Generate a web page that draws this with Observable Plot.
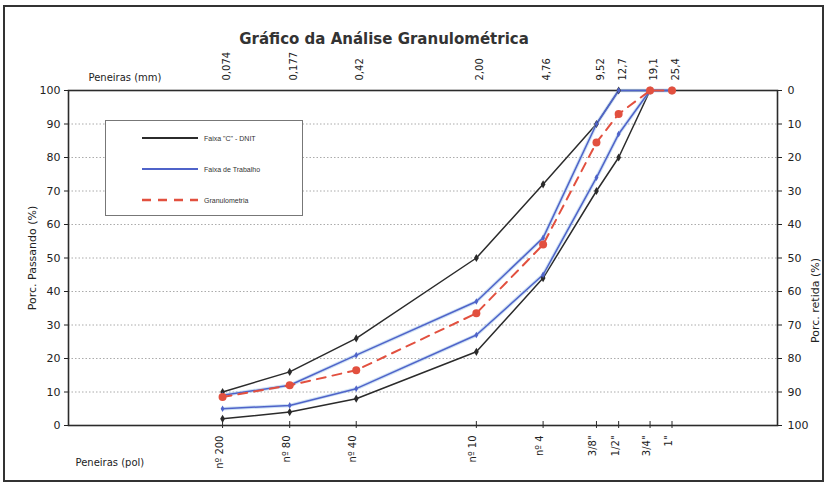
<!DOCTYPE html>
<html><head><meta charset="utf-8">
<script src="https://cdn.jsdelivr.net/npm/d3@7"></script>
<script src="https://cdn.jsdelivr.net/npm/@observablehq/plot@0.6"></script>
<style>
body{margin:0;background:#fff;font-family:"DejaVu Sans",sans-serif}
#wrap{position:relative;width:827px;height:488px;overflow:hidden}
#border{position:absolute;left:3px;top:5px;width:817px;height:473px;border:2px solid #333;pointer-events:none}
#legend{position:absolute;left:105px;top:120px;width:196px;height:94px;border:1px solid #777;background:#fff;font-family:"Liberation Sans",sans-serif;font-size:7px;color:#333}
#legend .row{position:absolute;left:36px;height:10px;display:flex;align-items:center}
#legend .row span{margin-left:6px}
</style></head><body>
<div id="wrap"><div id="chart"></div><div id="legend"></div><div id="border"></div></div>
<script>
const sieveMm = [0.074, 0.177, 0.42, 2.00, 4.76, 9.52, 12.7, 19.1, 25.4];
const sieveMmLabels = ["0,074", "0,177", "0,42", "2,00", "4,76", "9,52", "12,7", "19,1", "25,4"];
const sievePolLabels = ["nº 200", "nº 80", "nº 40", "nº 10", "nº 4", "3/8\"", "1/2\"", "3/4\"", "1\""];
const dnitUpper = [10, 16, 26, 50, 72, 90, 100, 100, 100];
const dnitLower = [2, 4, 8, 22, 44, 70, 80, 100, 100];
const trabUpper = [9, 12, 21, 37, 56, 90, 100, 100, 100];
const trabLower = [5, 6, 11, 27, 45, 74, 87, 100, 100];
const granulometria = [8.5, 12, 16.5, 33.5, 54, 84.5, 93, 100, 100];
const yTicks = [0, 10, 20, 30, 40, 50, 60, 70, 80, 90, 100];
const gridTicks = [10, 20, 30, 40, 50, 60, 70, 80, 90];
const legendItems = ["Faixa \"C\" - DNIT", "Faixa de Trabalho", "Granulometria"];

const rows = sieveMm.map((mm, i) => ({mm, du: dnitUpper[i], dl: dnitLower[i], tu: trabUpper[i], tl: trabLower[i], g: granulometria[i]}));
const sieves = sieveMm.map((mm, i) => ({mm, top: sieveMmLabels[i], bottom: sievePolLabels[i]}));

const dark = "#2b2b2b", blue = "#4f63c9", red = "#e2503f";

const chart = Plot.plot({
  width: 827, height: 488,
  marginLeft: 68, marginRight: 50, marginTop: 90, marginBottom: 63,
  style: {fontFamily: "DejaVu Sans, sans-serif", fontSize: "11px", background: "transparent", color: "#222"},
  x: {type: "log", domain: [0.01, 100], axis: null},
  y: {domain: [0, 100], axis: null},
  marks: [
    Plot.gridY(gridTicks, {stroke: "#888", strokeDasharray: "1.5,2", strokeOpacity: 0.7}),
    Plot.axisY(yTicks, {anchor: "left", tickSize: 4, tickPadding: 4, label: "Porc. Passando (%)", labelAnchor: "center", labelArrow: "none", labelOffset: 40}),
    Plot.axisY(yTicks, {anchor: "right", tickSize: 4, tickPadding: 6, tickFormat: d => 100 - d, label: null}),
    Plot.text(sieves, {x: "mm", text: "top", frameAnchor: "top", rotate: -90, textAnchor: "start", dy: -10, fontSize: 10}),
    Plot.text(sieves, {x: "mm", text: "bottom", frameAnchor: "bottom", rotate: -90, textAnchor: "end", dy: 10, fontSize: 10}),
    Plot.ruleX(sieves, {x: "mm", stroke: dark, strokeWidth: 1, insetTop: 331, insetBottom: -3}),
    Plot.frame({stroke: dark, strokeWidth: 1.6}),
    Plot.line(rows, {x: "mm", y: "du", stroke: dark, strokeWidth: 1.5}),
    Plot.line(rows, {x: "mm", y: "dl", stroke: dark, strokeWidth: 1.5}),
    Plot.line(rows, {x: "mm", y: "tu", stroke: "#9ec3ea", strokeWidth: 3.5, strokeOpacity: 0.5}),
    Plot.line(rows, {x: "mm", y: "tl", stroke: "#9ec3ea", strokeWidth: 3.5, strokeOpacity: 0.5}),
    Plot.line(rows, {x: "mm", y: "tu", stroke: blue, strokeWidth: 1.5}),
    Plot.line(rows, {x: "mm", y: "tl", stroke: blue, strokeWidth: 1.5}),
    Plot.line(rows, {x: "mm", y: "g", stroke: red, strokeWidth: 2, strokeDasharray: "9,7"}),
    Plot.dot(rows, {x: "mm", y: "du", symbol: "diamond", r: 2.5, fill: dark}),
    Plot.dot(rows, {x: "mm", y: "dl", symbol: "diamond", r: 2.5, fill: dark}),
    Plot.dot(rows, {x: "mm", y: "tu", symbol: "diamond", r: 2, fill: blue}),
    Plot.dot(rows, {x: "mm", y: "tl", symbol: "diamond", r: 2, fill: blue}),
    Plot.dot(rows, {x: "mm", y: "g", r: 4, fill: red}),
    Plot.text(["Porc. retida (%)"], {frameAnchor: "right", dx: 38, rotate: -90, fontSize: 11}),
    Plot.text(["Gráfico da Análise Granulométrica"], {frameAnchor: "top", dx: -39, dy: -57, fontWeight: "bold", fontSize: 15, fill: "#333"}),
    Plot.text(["Peneiras (mm)"], {frameAnchor: "top-left", dx: 20, dy: -17, textAnchor: "start", fontSize: 10}),
    Plot.text(["Peneiras (pol)"], {frameAnchor: "bottom-left", dx: 7, dy: 40, textAnchor: "start", fontSize: 10})
  ]
});
document.getElementById("chart").append(chart);

const legend = document.getElementById("legend");
const styles = [
  {stroke: dark, dash: null, w: 2},
  {stroke: blue, dash: null, w: 2},
  {stroke: red, dash: "9,7", w: 2.5}
];
legendItems.forEach((t, i) => {
  const row = document.createElement("div");
  row.className = "row";
  row.style.top = (12 + i * 31) + "px";
  const s = styles[i];
  row.innerHTML = `<svg width="56" height="10"><line x1="0" y1="5" x2="56" y2="5" stroke="${s.stroke}" stroke-width="${s.w}" ${s.dash ? `stroke-dasharray="${s.dash}"` : ""}/></svg><span>${t}</span>`;
  legend.append(row);
});
</script>
</body></html>
